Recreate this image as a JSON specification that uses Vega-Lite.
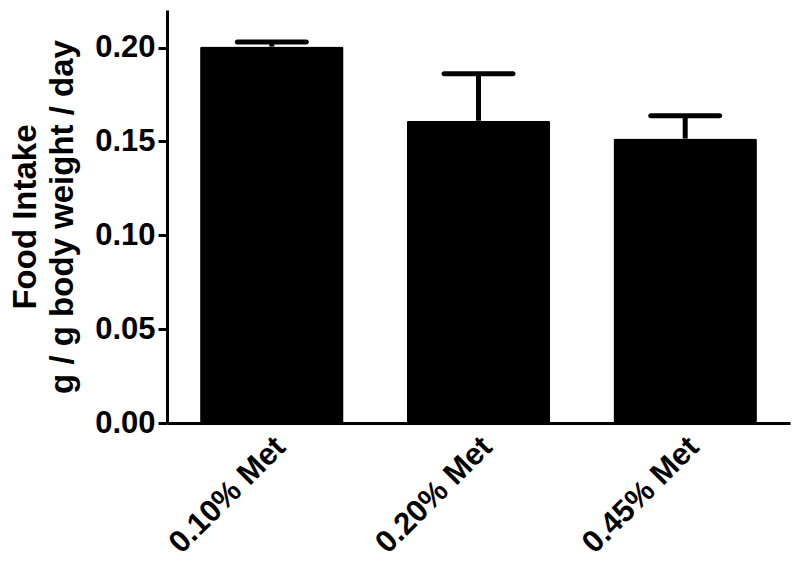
{
  "$schema": "https://vega.github.io/schema/vega-lite/v6.json",
  "width": 623,
  "height": 413,
  "autosize": {"type": "none"},
  "padding": {"left": 167, "top": 10, "right": 10, "bottom": 144},
  "background": "white",
  "config": {
    "view": {"stroke": null},
    "font": "Liberation Sans",
    "axis": {
      "domainColor": "black",
      "domainWidth": 3,
      "tickColor": "black",
      "tickWidth": 3,
      "labelColor": "black",
      "titleColor": "black",
      "labelFont": "Liberation Sans",
      "titleFont": "Liberation Sans",
      "labelFontWeight": "bold",
      "titleFontWeight": "bold",
      "grid": false
    }
  },
  "data": {
    "values": [
      {"group": "0.10% Met", "mean": 0.2005, "upper": 0.203},
      {"group": "0.20% Met", "mean": 0.161, "upper": 0.186},
      {"group": "0.45% Met", "mean": 0.1515, "upper": 0.1637}
    ]
  },
  "encoding": {
    "x": {
      "field": "group",
      "type": "nominal",
      "sort": null,
      "scale": {"paddingInner": 0.306, "paddingOuter": 0.16},
      "axis": {
        "title": null,
        "ticks": false,
        "labelAngle": -45,
        "labelAlign": "right",
        "labelBaseline": "middle",
        "labelFontSize": 31,
        "labelPadding": 19,
        "labelOffset": 9
      }
    }
  },
  "layer": [
    {
      "mark": {"type": "bar", "color": "black", "cornerRadius": 2},
      "encoding": {
        "y": {
          "field": "mean",
          "type": "quantitative",
          "scale": {"domain": [0, 0.22], "nice": false},
          "axis": {
            "values": [0, 0.05, 0.1, 0.15, 0.2],
            "format": ".2f",
            "tickSize": 9,
            "labelPadding": 3,
            "labelFontSize": 31,
            "title": ["Food Intake", "g / g body weight / day"],
            "titleFontSize": 33,
            "titleLineHeight": 37,
            "titlePadding": 15
          }
        }
      }
    },
    {
      "mark": {"type": "rule", "color": "black", "strokeWidth": 5},
      "encoding": {
        "y": {"field": "mean", "type": "quantitative"},
        "y2": {"field": "upper"}
      }
    },
    {
      "mark": {"type": "tick", "color": "black", "opacity": 1, "size": 74, "thickness": 5, "cornerRadius": 2.5},
      "encoding": {
        "y": {"field": "upper", "type": "quantitative"}
      }
    }
  ]
}
